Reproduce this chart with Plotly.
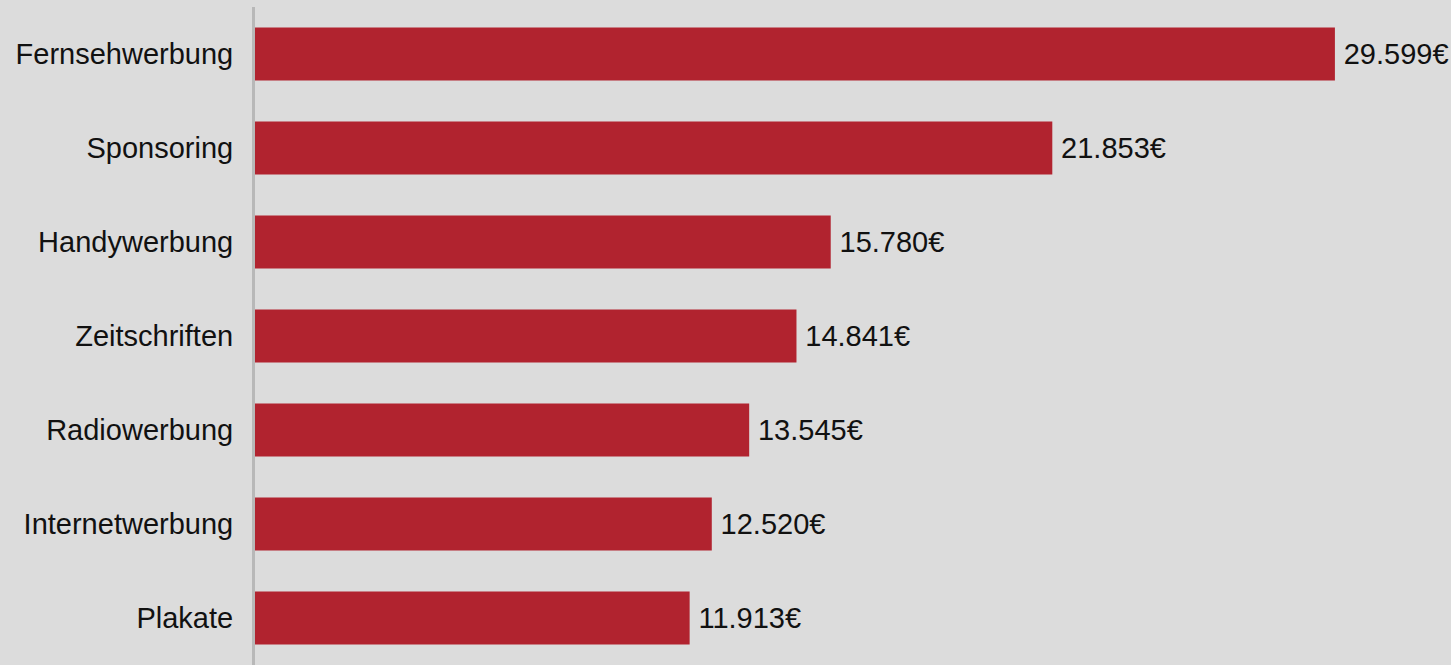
import plotly.graph_objects as go

categories = ["Fernsehwerbung", "Sponsoring", "Handywerbung", "Zeitschriften",
              "Radiowerbung", "Internetwerbung", "Plakate"]
values = [29599, 21853, 15780, 14841, 13545, 12520, 11913]

FONT = "Liberation Sans, Arial, sans-serif"

fig = go.Figure(go.Bar(
    x=values,
    y=categories,
    orientation="h",
    marker=dict(color="#b1232f", line=dict(width=0)),
    width=0.565,
    text=values,
    texttemplate="\u2009%{x:,.0f}€",
    textposition="outside",
    cliponaxis=False,
    textfont=dict(family=FONT, size=29, color="#111111"),
))

fig.update_layout(
    width=1451, height=665,
    paper_bgcolor="#dcdcdc",
    plot_bgcolor="#dcdcdc",
    margin=dict(l=255, r=0, t=7, b=0),
    separators=",.",
    showlegend=False,
    font=dict(family=FONT, size=29, color="#111111"),
)
fig.update_xaxes(range=[0, 32781], visible=False, showgrid=False, zeroline=False)
fig.update_yaxes(
    categoryorder="array", categoryarray=categories[::-1],
    range=[-0.5, 6.5],
    showline=True, linecolor="#b8b8b8", linewidth=3,
    showgrid=False, zeroline=False,
    ticks="outside", ticklen=13, tickcolor="rgba(0,0,0,0)",
    tickfont=dict(family=FONT, size=29, color="#111111"),
)

fig.write_html(
    "out.html",
    config={"displayModeBar": False},
    post_script="document.body.style.margin='0';document.body.style.background='#dcdcdc';",
)
